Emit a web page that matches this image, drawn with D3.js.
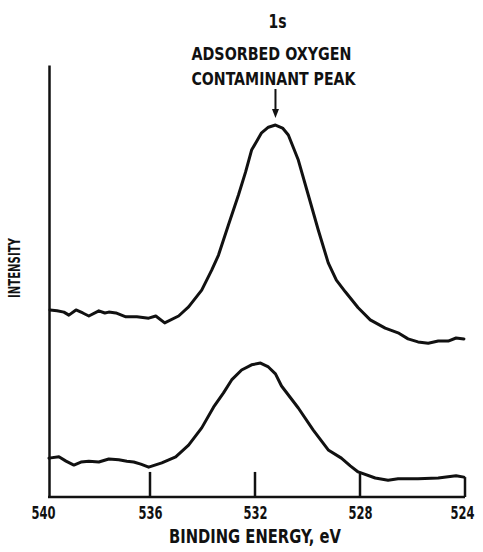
<!DOCTYPE html>
<html>
<head>
<meta charset="utf-8">
<script src="https://cdn.jsdelivr.net/npm/d3@7"></script>
<style>
  html, body { margin: 0; padding: 0; background: #fff; }
  svg { display: block; }
  text { font-family: "Liberation Sans Narrow", "DejaVu Sans Condensed", "Roboto Condensed", sans-serif; font-weight: bold; fill: #111; }
</style>
</head>
<body>
<svg id="chart" width="483" height="552"></svg>
<script>
// ---- data (binding energy in eV, intensity in arbitrary units) ----
const upperEnergy = [539.81,539.54,539.28,539.09,538.82,538.56,538.33,537.95,537.72,537.57,537.30,536.92,536.50,536.05,535.78,535.44,534.91,534.53,534.03,533.65,533.39,533.01,532.63,532.36,532.13,531.75,531.49,531.22,530.95,530.73,530.35,529.97,529.59,529.21,528.90,528.56,528.07,527.61,527.04,526.55,526.17,525.79,525.40,525.02,524.64,524.34,524.04];
const upperIntensity = [43.3,43.1,42.8,42.1,43.3,42.6,41.9,43.1,42.6,42.8,42.6,41.7,41.7,41.4,41.9,40.3,41.9,44.0,47.9,52.5,56.0,63.0,69.9,75.2,80.3,84.3,85.6,86.1,85.4,83.8,78.0,69.9,61.8,54.2,50.2,47.5,43.8,41.0,39.1,38.0,36.6,35.9,35.6,36.1,36.1,36.8,36.6];

const lowerEnergy = [539.85,539.47,539.20,538.90,538.63,538.33,537.95,537.57,537.19,536.88,536.62,536.35,536.05,535.55,535.02,534.53,534.03,533.58,533.20,532.89,532.51,532.13,531.79,531.49,531.22,530.99,530.35,529.78,529.21,528.71,528.37,528.07,527.42,526.93,526.55,525.79,525.02,524.34,524.04];
const lowerIntensity = [9.0,9.3,8.3,7.4,8.1,8.3,8.1,8.8,8.6,8.3,8.1,7.6,6.9,7.9,9.3,12.0,16.0,20.8,24.1,27.1,29.4,30.6,31.0,30.1,28.5,25.7,20.6,15.5,10.9,9.0,7.2,5.8,4.4,3.9,4.2,4.2,4.4,4.9,4.6];

const tickValues = [540, 536, 532, 528, 524];
const innerTicks = [536, 532, 528];
const xTitle = "BINDING ENERGY, eV";
const yTitle = "INTENSITY";
const titleLines = ["ADSORBED OXYGEN", "CONTAMINANT PEAK"];
const orbital = "1s";

// ---- scales ----
const svg = d3.select("#chart");
const x = d3.scaleLinear().domain([540, 524]).range([45, 465]);
const y = d3.scaleLinear().domain([0, 100]).range([497, 65]);

const line = d3.line().x(d => x(d[0])).y(d => y(d[1])).curve(d3.curveLinear);
const upper = upperEnergy.map((e, i) => [e, upperIntensity[i]]);
const lower = lowerEnergy.map((e, i) => [e, lowerIntensity[i]]);

// ---- axes ----
const xAxis = d3.axisBottom(x)
  .tickValues(tickValues)
  .tickFormat(d3.format("d"))
  .tickSizeInner(0)
  .tickSizeOuter(0)
  .tickPadding(10);
const gx = svg.append("g").attr("transform", `translate(0,${y(0)})`).call(xAxis);
gx.select(".domain").attr("stroke", "#111").attr("stroke-width", 2.5)
  .attr("d", `M${x(540) + 3},0H${x(524)}`);
gx.selectAll(".tick line").remove();
gx.selectAll(".tick text")
  .attr("font-size", 17)
  .attr("fill", "#111")
  .attr("font-family", null)
  .attr("textLength", 24)
  .attr("lengthAdjust", "spacingAndGlyphs")
  .attr("dx", d => d === 524 ? -3 : (d === 540 ? -2 : 0));

// inner ticks pointing up
svg.append("g").selectAll("line").data(innerTicks).join("line")
  .attr("x1", d => x(d)).attr("x2", d => x(d))
  .attr("y1", y(0)).attr("y2", y(5.8))
  .attr("stroke", "#111").attr("stroke-width", 2.5);

// right edge at 524 rising to the lower trace end
svg.append("line")
  .attr("x1", x(524)).attr("x2", x(524))
  .attr("y1", y(0)).attr("y2", y(lowerIntensity[lowerIntensity.length - 1]))
  .attr("stroke", "#111").attr("stroke-width", 2.5);

// y axis (no ticks)
const yAxis = d3.axisLeft(y).tickValues([]).tickSizeOuter(0);
const gy = svg.append("g").attr("transform", `translate(${x(540) + 4},0)`).call(yAxis);
gy.select(".domain").attr("stroke", "#111").attr("stroke-width", 2.5);

// ---- traces ----
[upper, lower].forEach(s => {
  svg.append("path").datum(s)
    .attr("d", line)
    .attr("fill", "none")
    .attr("stroke", "#111")
    .attr("stroke-width", 3)
    .attr("stroke-linejoin", "round")
    .attr("stroke-linecap", "round");
});

// ---- labels ----
svg.append("text")
  .attr("x", x(532)).attr("y", 543)
  .attr("text-anchor", "middle")
  .attr("font-size", 19)
  .attr("textLength", 172).attr("lengthAdjust", "spacingAndGlyphs")
  .text(xTitle);

svg.append("text")
  .attr("transform", `translate(20,${y(53)}) rotate(-90)`)
  .attr("text-anchor", "middle")
  .attr("font-size", 15)
  .attr("textLength", 60).attr("lengthAdjust", "spacingAndGlyphs")
  .text(yTitle);

const peakX = x(531.22);
svg.append("text")
  .attr("x", peakX + 2).attr("y", 28)
  .attr("text-anchor", "middle")
  .attr("font-size", 19)
  .attr("textLength", 18).attr("lengthAdjust", "spacingAndGlyphs")
  .text(orbital);

svg.append("text")
  .attr("x", peakX - 4).attr("y", 60)
  .attr("text-anchor", "middle")
  .attr("font-size", 17)
  .attr("textLength", 160).attr("lengthAdjust", "spacingAndGlyphs")
  .text(titleLines[0]);
svg.append("text")
  .attr("x", peakX - 2).attr("y", 85)
  .attr("text-anchor", "middle")
  .attr("font-size", 17)
  .attr("textLength", 164).attr("lengthAdjust", "spacingAndGlyphs")
  .text(titleLines[1]);

// arrow to peak
const arrowTop = 89, arrowTip = y(d3.max(upperIntensity)) - 7;
svg.append("line")
  .attr("x1", peakX).attr("x2", peakX)
  .attr("y1", arrowTop).attr("y2", arrowTip - 6)
  .attr("stroke", "#111").attr("stroke-width", 2);
svg.append("path")
  .attr("d", `M${peakX - 3.5},${arrowTip - 9}L${peakX + 3.5},${arrowTip - 9}L${peakX},${arrowTip}Z`)
  .attr("fill", "#111");
</script>
</body>
</html>
